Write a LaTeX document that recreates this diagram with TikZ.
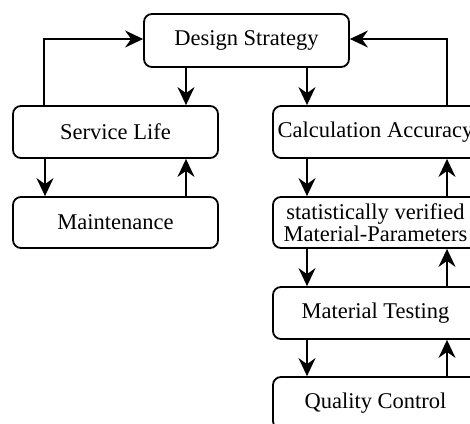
\documentclass[tikz,border=0pt]{standalone}
\usepackage{fontspec}
\setmainfont{Liberation Serif}
\usetikzlibrary{arrows.meta}
\begin{document}
\begin{tikzpicture}[x=1pt,y=-1pt,
  box/.style={draw, line width=1.8pt, rounded corners=8pt, minimum width=205pt, minimum height=52pt, inner sep=0pt, align=center, font=\fontsize{22.5}{22}\selectfont},
  arr/.style={line width=1.8pt, -{Stealth[length=18pt,width=17pt,inset=6pt]}}]
\useasboundingbox (0,0) rectangle (470,423);
\clip (0,0) rectangle (470,423);
\node[box, minimum height=53pt] (design) at (246.5,40.5) {Design Strategy};
\node[box] (service) at (115.5,132) {Service Life};
\node[box, minimum height=51pt] (maint) at (115.5,222.5) {Maintenance};
\node[box] (calc) at (375.5,132) {Calculation Accuracy};
\node[box, minimum height=51pt] (stat) at (375.5,222.5) {statistically verified\\Material-Parameters};
\node[box] (test) at (375.5,313) {Material Testing};
\node[box] (qc) at (375.5,403) {Quality Control};
% design -> children
\draw[arr] ([xshift=70.5pt]service.north |- design.south) -- ([xshift=70.5pt]service.north);
\draw[arr] ([xshift=-68.5pt]calc.north |- design.south) -- ([xshift=-68.5pt]calc.north);
% loops back
\draw[arr] ([xshift=-71.5pt]service.north) |- ([yshift=1.5pt]design.west);
\draw[arr] ([xshift=71.5pt]calc.north) |- ([yshift=1.5pt]design.east);
% left column
\draw[arr] ([xshift=-70.5pt]service.south) -- ([xshift=-70.5pt]maint.north);
\draw[arr] ([xshift=70.5pt]maint.north) -- ([xshift=70.5pt]service.south);
% right column
\draw[arr] ([xshift=-68.5pt]calc.south) -- ([xshift=-68.5pt]stat.north);
\draw[arr] ([xshift=71.5pt]stat.north) -- ([xshift=71.5pt]calc.south);
\draw[arr] ([xshift=-68.5pt]stat.south) -- ([xshift=-68.5pt]test.north);
\draw[arr] ([xshift=71.5pt]test.north) -- ([xshift=71.5pt]stat.south);
\draw[arr] ([xshift=-68.5pt]test.south) -- ([xshift=-68.5pt]qc.north);
\draw[arr] ([xshift=71.5pt]qc.north) -- ([xshift=71.5pt]test.south);
\end{tikzpicture}
\end{document}
